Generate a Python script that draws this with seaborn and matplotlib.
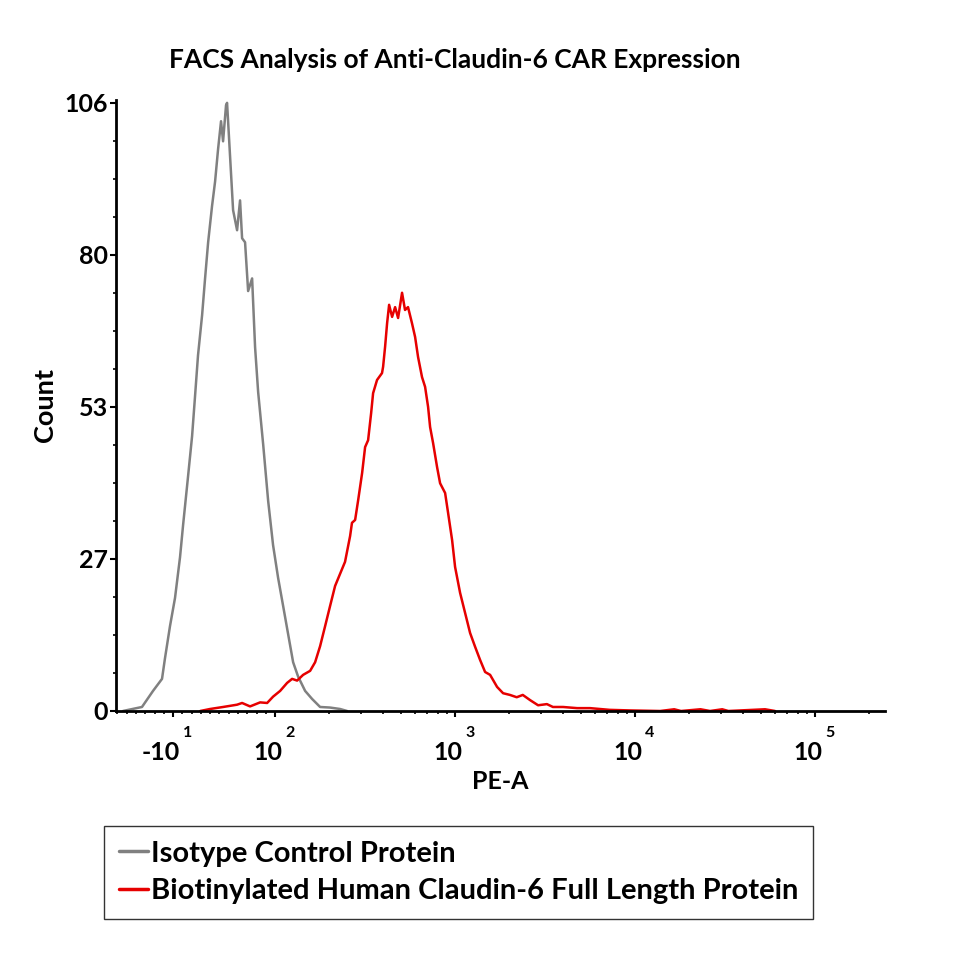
import numpy as np
import pandas as pd
import seaborn as sns
import matplotlib.pyplot as plt
from matplotlib.ticker import FixedLocator, FixedFormatter, NullFormatter

# values (PE-A intensity, event count)
iso_pe = [-64, -43.5, -31.6, -21.9, -18.7, -13.3, -7.9, -2.5, 0.8, 6.1, 10.5,
          13.7, 16.9, 21.3, 24.5, 27.8, 32.0, 35.3, 38.5, 41.7, 43.9, 47.1,
          48.2, 51.5, 54.7, 59.0, 62.2, 64.4, 67.6, 70.9, 75.2, 78.4, 81.7,
          87.1, 92.5, 97.8, 103.9, 110.8, 118.1, 125.9, 134.2, 146.8, 160.5,
          177.8, 202.0, 229.5, 251.2]
iso_count = [0, 0.7, 3.5, 5.6, 9.2, 14.8, 19.7, 26.8, 32.4, 40.8, 47.9,
             54.9, 62.0, 69.0, 75.4, 81.7, 88.0, 92.3, 97.9, 102.8, 99.3, 105.6,
             106.0, 96.5, 87.3, 83.8, 89.0, 82.4, 81.7, 73.2, 75.4, 63.4, 55.6,
             46.5, 36.6, 28.9, 23.2, 18.3, 13.4, 8.5, 6.0, 3.5, 2.1,
             0.7, 0.6, 0.35, 0]

cldn_pe = [19.3, 29.9, 43.9, 59.0, 64.4, 73.0, 83.8, 91.4, 97.8, 106.6, 116.6,
           124.3, 132.5, 143.1, 156.5, 166.8, 177.8, 189.6, 202.0, 215.4, 229.5,
           244.6, 261.0, 267.3, 278.3, 289.5, 304.4, 316.2, 328.6, 341.5, 350.3,
           368.4, 392.6, 398.1, 408.4, 419.0, 429.9, 446.7, 464.2, 482.3, 507.3,
           527.0, 547.6, 576.0, 599.5, 622.7, 655.0, 681.3, 707.9, 726.3, 754.7,
           794.3, 825.4, 880.2, 914.6, 962.4, 1000, 1066, 1136.5, 1211.5, 1291.5,
           1377, 1468, 1565, 1711, 1848, 2018, 2200, 2378, 2610, 2892, 3237,
           3497, 3981, 4764, 5623, 7227, 9346, 13790, 16500, 18000, 23100,
           26100, 30500, 33000, 52750, 59950]
cldn_count = [0, 0.35, 0.7, 1.1, 1.4, 0.8, 1.5, 1.4, 2.5, 3.5, 4.9,
              5.6, 5.3, 6.3, 7.0, 8.5, 11.3, 14.8, 18.3, 21.8, 23.9,
              26.0, 30.5, 32.8, 33.3, 36.8, 41.5, 46.0, 47.2, 51.9, 55.4,
              57.7, 58.9, 60.0, 63.5, 67.6, 70.8, 68.7, 70.4, 68.5, 72.9,
              69.9, 70.4, 67.6, 65.2, 61.7, 58.2, 56.5, 53.0, 49.5, 46.7,
              42.5, 39.7, 38.0, 34.5, 29.8, 25.1, 20.6, 17.1, 13.6, 11.2,
              8.9, 6.8, 6.3, 4.2, 3.1, 2.8, 2.4, 2.8, 1.9, 1.0, 1.2,
              0.7, 0.7, 0.5, 0.5, 0.2, 0.1, 0, 0.3, 0, 0.3,
              0, 0.3, 0, 0.3, 0]

iso_label = "Isotype Control Protein"
cldn_label = "Biotinylated Human Claudin-6 Full Length Protein"

y_ticks = [0, 26.5, 53, 79.5, 106]
y_tick_labels = ["0", "27", "53", "80", "106"]
x_ticks = [-10, 100, 1000, 10000, 100000]
x_tick_base = ["-10", "10", "10", "10", "10"]
x_tick_exp = ["1", "2", "3", "4", "5"]

iso = pd.DataFrame({"pe": iso_pe, "count": iso_count})
cldn = pd.DataFrame({"pe": cldn_pe, "count": cldn_count})

sns.set_style("ticks")
plt.rcParams["font.family"] = ["Lato", "DejaVu Sans"]
plt.rcParams["font.weight"] = "bold"
for key in ["text.color", "axes.labelcolor", "xtick.color", "ytick.color",
            "axes.edgecolor"]:
    plt.rcParams[key] = "black"

fig = plt.figure(figsize=(9.6, 9.6), dpi=100)
ax = fig.add_axes([116 / 960, 249 / 960, 769 / 960, 611 / 960])

sns.lineplot(data=iso, x="pe", y="count", color="#808080", lw=1.8,
             estimator=None, ax=ax, label=iso_label)
sns.lineplot(data=cldn, x="pe", y="count", color="#e60000", lw=1.8,
             estimator=None, ax=ax, label=cldn_label)

# biexponential-like axis
ax.set_xscale("symlog", linthresh=100, linscale=0.464)
ax.set_xlim(-71.5, 244800)
ax.set_ylim(0, 106.5)

minor_x = list(range(-70, 100, 10))
for d in [100, 1000, 10000]:
    minor_x += [k * d for k in range(2, 10)]
minor_x.append(200000)
ax.xaxis.set_major_locator(FixedLocator(x_ticks))
ax.xaxis.set_major_formatter(NullFormatter())
ax.xaxis.set_minor_locator(FixedLocator(minor_x))

ax.yaxis.set_major_locator(FixedLocator(y_ticks))
ax.yaxis.set_major_formatter(FixedFormatter(y_tick_labels))
ax.yaxis.set_minor_locator(FixedLocator(list(np.arange(0, 106.1, 6.625))))

for s in ["top", "right"]:
    ax.spines[s].set_visible(False)
for s in ["left", "bottom"]:
    ax.spines[s].set_linewidth(2.0)
ax.tick_params(axis="both", which="major", length=4.5, width=1.5,
               direction="out", color="black")
ax.tick_params(axis="both", which="minor", length=2.5, width=1.2,
               direction="out", color="black")
ax.tick_params(axis="y", which="major", labelsize=18, pad=1)

# FlowJo-style exponent labels
for v, base, ex in zip(x_ticks, x_tick_base, x_tick_exp):
    ax.annotate(base, xy=(v, 0), xycoords=ax.get_xaxis_transform(),
                xytext=(7, -42), textcoords="offset pixels",
                ha="right", va="center", fontsize=18, fontweight="bold")
    ax.annotate(ex, xy=(v, 0), xycoords=ax.get_xaxis_transform(),
                xytext=(10, -22), textcoords="offset pixels",
                ha="left", va="center", fontsize=11.5, fontweight="bold")

ax.set_xlabel("PE-A", fontsize=18, fontweight="bold")
ax.xaxis.set_label_coords(0.5, -0.097)
ax.set_ylabel("Count", fontsize=19.5, fontweight="bold")
ax.yaxis.set_label_coords(-0.077, 0.5)

fig.text(455 / 960, 1 - 60 / 960, "FACS Analysis of Anti-Claudin-6 CAR Expression",
         ha="center", va="center", fontsize=19, fontweight="bold")

handles, labels = ax.get_legend_handles_labels()
ax.get_legend().remove()
leg = fig.legend(handles, labels, loc="upper left",
                 bbox_to_anchor=(104 / 960, 1 - 826 / 960), frameon=True,
                 fancybox=False, edgecolor="black", fontsize=21,
                 handlelength=1.0, handletextpad=0.1, borderpad=0.5,
                 labelspacing=0.4, borderaxespad=0)
leg.get_frame().set_linewidth(1.0)
for line in leg.get_lines():
    line.set_linewidth(2.5)

fig.savefig("out.png", dpi=100)
